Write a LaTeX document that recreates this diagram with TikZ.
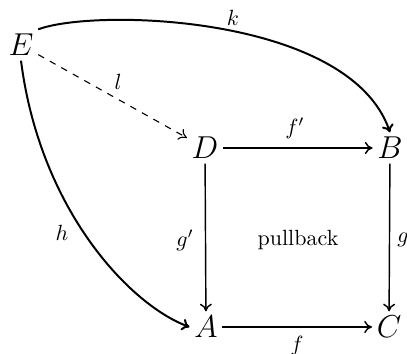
\documentclass[tikz,border=0pt]{standalone}
\usetikzlibrary{arrows.meta}
\begin{document}
\begin{tikzpicture}[x=0.4545pt,y=-0.4545pt,
  obj/.style={inner sep=2pt,font=\Large},
  lab/.style={inner sep=1pt},
  arr/.style={line width=0.65pt,-{To[length=3.5pt,width=5.5pt]}},
  curv/.style={line width=0.9pt,-{To[length=3.5pt,width=5.5pt]}}]
\useasboundingbox (0,0) rectangle (407,354);
\node[obj] (E) at (21,45) {$E$};
\node[obj] (D) at (205,148) {$D$};
\node[obj] (B) at (390,148) {$B$};
\node[obj] (A) at (206,327) {$A$};
\node[obj] (C) at (389,327) {$C$};
\draw[arr] (D) -- (B);
\draw[arr] (A) -- (C);
\draw[arr] (D) -- (A);
\draw[arr] (B) -- (C);
\draw[arr,dashed,line width=0.5pt] (E) -- (D);
\coordinate (k1) at (95,8);
\coordinate (k2) at (350,15);
\draw[curv] (E.north east) .. controls (k1) and (k2) .. (B.north);
\coordinate (h1) at (40,210);
\coordinate (h2) at (130,305);
\draw[curv] (E.south) .. controls (h1) and (h2) .. (A.west);
\node[lab] (lk) at (233,18) {$k$};
\node[lab] (ll) at (118,82) {$l$};
\node[lab] (lf') at (295,128) {$f'$};
\node[lab] (lf) at (297,346) {$f$};
\node[lab] (lg') at (185,240) {$g'$};
\node[lab] (lg) at (403,240) {$g$};
\node[lab] (lh) at (62,233) {$h$};
\node[lab] (pb) at (298,240) {pullback};
\end{tikzpicture}
\end{document}
